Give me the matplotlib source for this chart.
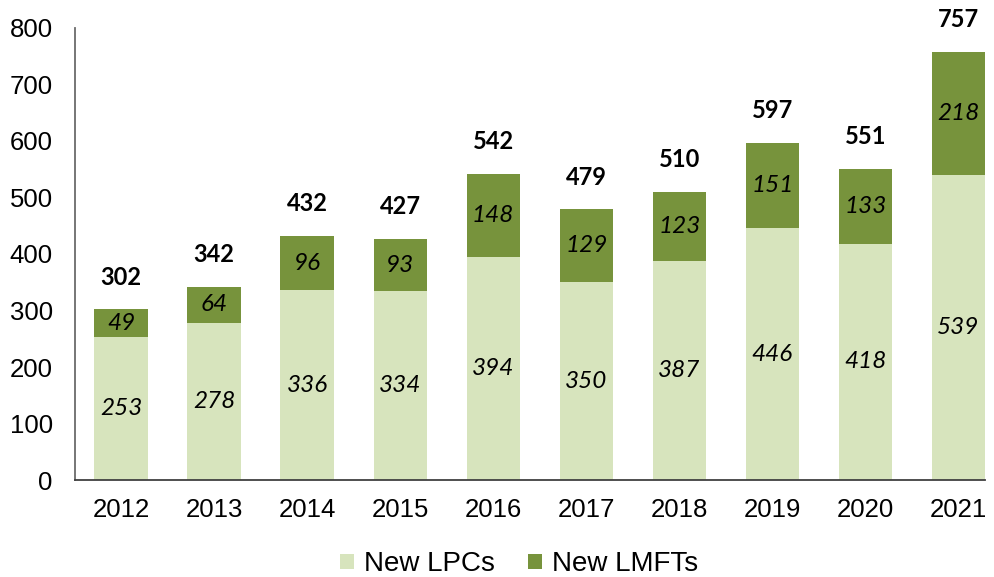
import matplotlib
matplotlib.use("Agg")
import matplotlib.pyplot as plt
import numpy as np

years = ["2012", "2013", "2014", "2015", "2016", "2017", "2018", "2019", "2020", "2021"]
new_lpcs = [253, 278, 336, 334, 394, 350, 387, 446, 418, 539]
new_lmfts = [49, 64, 96, 93, 148, 129, 123, 151, 133, 218]
totals = [302, 342, 432, 427, 542, 479, 510, 597, 551, 757]

light = "#d7e4bd"
dark = "#77933c"

fig = plt.figure(figsize=(9.95, 5.77), dpi=100)
ax = fig.add_axes([0.0754, 0.1681, 0.9146, 0.7834])

x = np.arange(len(years))
w = 0.573
b1 = ax.bar(x, new_lpcs, width=w, color=light, label="New LPCs")
b2 = ax.bar(x, new_lmfts, width=w, bottom=new_lpcs, color=dark, label="New LMFTs")

lab_font = dict(family=["Lato", "DejaVu Sans"], fontsize=17.5, style="italic", color="black")
for xi, a, b in zip(x, new_lpcs, new_lmfts):
    ax.text(xi, a / 2, str(a), ha="center", va="center", **lab_font)
    ax.text(xi, a + b / 2, str(b), ha="center", va="center", **lab_font)
for xi, t in zip(x, totals):
    ax.annotate(str(t), (xi, t), xytext=(0, 15), textcoords="offset points",
                ha="center", va="bottom", fontsize=17, fontweight="bold",
                family=["Lato", "DejaVu Sans"], color="black")

ax.set_xlim(-0.495, 9.287)
ax.set_ylim(0, 800)
ax.set_yticks(range(0, 801, 100))
ax.set_xticks(x)
ax.set_xticklabels(years)
for s in ["top", "right"]:
    ax.spines[s].set_visible(False)
ax.spines["left"].set_color("#6b6b6b")
ax.spines["left"].set_linewidth(1.3)
ax.spines["bottom"].set_color("#404040")
ax.spines["bottom"].set_linewidth(1.3)
ax.tick_params(axis="both", length=0, labelsize=18.5, colors="black")
ax.tick_params(axis="x", pad=13)
ax.tick_params(axis="y", pad=16)
for lbl in ax.get_xticklabels() + ax.get_yticklabels():
    lbl.set_family(["Liberation Sans", "DejaVu Sans"])

fig.legend(handles=[b1, b2], labels=["New LPCs", "New LMFTs"], loc="center",
           bbox_to_anchor=(0.5216, 0.022), ncol=2, frameon=False,
           prop={"family": ["Liberation Sans", "DejaVu Sans"], "size": 20},
           handlelength=0.5, handleheight=0.5, handletextpad=0.35, columnspacing=1.2)

fig.savefig("out.png", dpi=100)
